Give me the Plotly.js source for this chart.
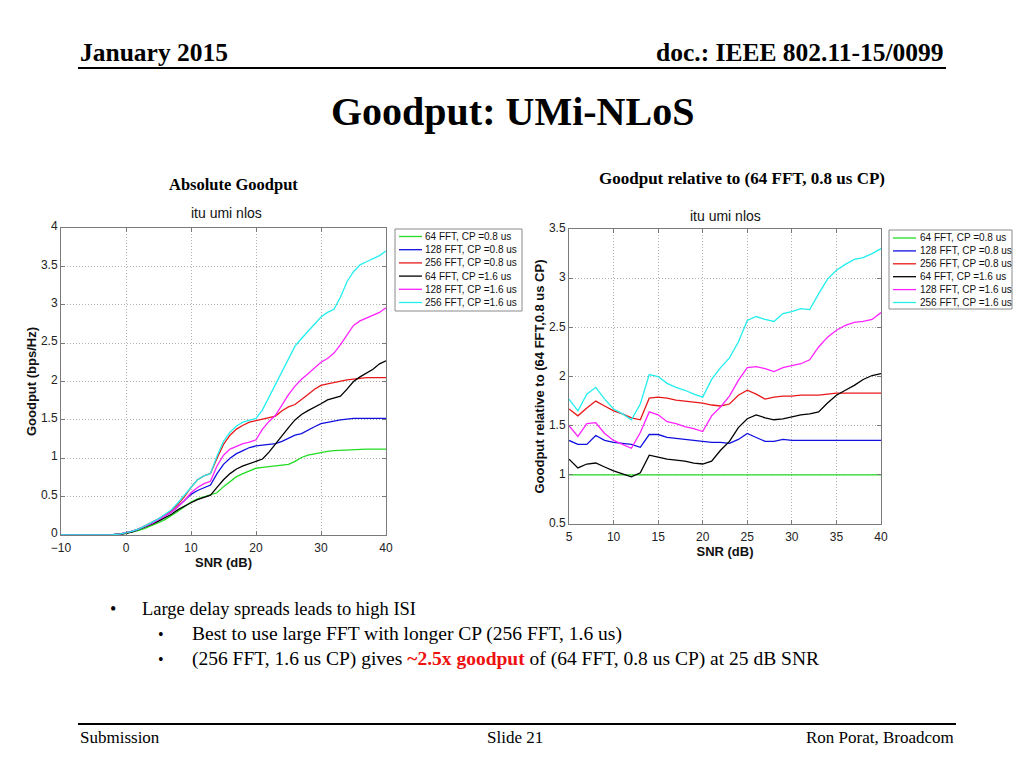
<!DOCTYPE html>
<html>
<head>
<meta charset="utf-8">
<script src="https://cdn.plot.ly/plotly-3.0.1.min.js"></script>
<style>html,body{margin:0;padding:0;background:#fff;}#chart{width:1024px;height:768px;}</style>
</head>
<body>
<div id="chart"></div>
<script>
// ---- Data ----
const seriesNames = ["64 FFT, CP =0.8 us", "128 FFT, CP =0.8 us", "256 FFT, CP =0.8 us",
                     "64 FFT, CP =1.6 us", "128 FFT, CP =1.6 us", "256 FFT, CP =1.6 us"];
const seriesColors = ["#22dd22", "#1010e0", "#e81818", "#000000", "#ff22ff", "#22eeee"];

const snrAbs = [-10,-9,-8,-7,-6,-5,-4,-3,-2,-1,0,1,2,3,4,5,6,7,8,9,10,11,12,13,14,15,16,17,18,19,20,
                21,22,23,24,25,26,27,28,29,30,31,32,33,34,35,36,37,38,39,40];
const abs64_08  = [0,0,0,0,0,0,0,0.002,0.005,0.01,0.02,0.04,0.06,0.09,0.12,0.16,0.2,0.25,0.31,0.37,0.43,0.47,0.5,0.52,0.55,0.63,0.7,0.76,0.8,0.84,0.87,
                   0.88,0.89,0.9,0.91,0.92,0.96,1.01,1.04,1.06,1.08,1.09,1.1,1.105,1.11,1.115,1.12,1.12,1.12,1.12,1.12];
const abs128_08 = [0,0,0,0,0,0,0,0.002,0.006,0.012,0.03,0.05,0.08,0.11,0.15,0.2,0.25,0.3,0.37,0.45,0.53,0.58,0.62,0.65,0.8,0.92,1.0,1.06,1.1,1.14,1.16,
                   1.17,1.18,1.19,1.22,1.26,1.3,1.32,1.37,1.41,1.45,1.47,1.49,1.5,1.51,1.52,1.52,1.52,1.52,1.52,1.52];
const abs256_08 = [0,0,0,0,0,0,0,0.002,0.006,0.012,0.03,0.05,0.08,0.12,0.16,0.21,0.26,0.32,0.4,0.5,0.62,0.72,0.77,0.8,1.0,1.18,1.3,1.38,1.43,1.47,1.49,
                   1.51,1.52,1.55,1.62,1.67,1.7,1.76,1.83,1.9,1.95,1.97,1.99,2.0,2.02,2.03,2.04,2.05,2.05,2.05,2.05];
const abs64_16  = [0,0,0,0,0,0,0,0.002,0.005,0.01,0.02,0.04,0.07,0.1,0.14,0.18,0.22,0.27,0.33,0.38,0.42,0.46,0.49,0.52,0.62,0.72,0.8,0.86,0.9,0.93,0.95,
                   0.99,1.08,1.19,1.3,1.4,1.5,1.57,1.62,1.66,1.71,1.76,1.79,1.81,1.9,2.0,2.06,2.11,2.16,2.23,2.27];
const abs128_16 = [0,0,0,0,0,0,0,0.002,0.006,0.012,0.03,0.05,0.08,0.11,0.15,0.2,0.25,0.3,0.37,0.45,0.55,0.62,0.67,0.7,0.9,1.04,1.12,1.16,1.19,1.21,1.24,
                   1.38,1.48,1.56,1.7,1.83,1.94,2.03,2.1,2.17,2.25,2.3,2.37,2.48,2.6,2.73,2.79,2.83,2.87,2.9,2.96];
const abs256_16 = [0,0,0,0,0,0,0,0.002,0.006,0.012,0.03,0.05,0.08,0.12,0.16,0.21,0.27,0.33,0.42,0.52,0.63,0.72,0.77,0.8,1.03,1.22,1.34,1.42,1.47,1.5,1.52,
                   1.63,1.8,1.95,2.12,2.3,2.46,2.56,2.65,2.74,2.84,2.9,2.94,3.1,3.3,3.43,3.52,3.56,3.6,3.64,3.7];

const snrRel = [5,6,7,8,9,10,11,12,13,14,15,16,17,18,19,20,21,22,23,24,25,26,27,28,29,30,31,32,33,34,35,36,37,38,39,40];
const rel64_08  = [1,1,1,1,1,1,1,1,1,1,1,1,1,1,1,1,1,1,1,1,1,1,1,1,1,1,1,1,1,1,1,1,1,1,1,1];
const rel128_08 = [1.35,1.31,1.31,1.4,1.35,1.33,1.32,1.31,1.28,1.41,1.41,1.38,1.37,1.36,1.35,1.34,1.33,1.33,1.32,1.36,1.42,1.38,1.34,1.34,1.36,1.35,1.35,1.35,1.35,1.35,1.35,1.35,1.35,1.35,1.35,1.35];
const rel256_08 = [1.67,1.6,1.68,1.75,1.7,1.65,1.62,1.58,1.56,1.78,1.79,1.78,1.76,1.75,1.74,1.73,1.71,1.7,1.72,1.81,1.86,1.82,1.77,1.79,1.8,1.8,1.81,1.81,1.81,1.82,1.83,1.83,1.83,1.83,1.83,1.83];
const rel64_16  = [1.16,1.07,1.11,1.12,1.08,1.04,1.01,0.98,1.02,1.2,1.18,1.16,1.15,1.14,1.12,1.11,1.14,1.25,1.34,1.48,1.57,1.61,1.58,1.56,1.57,1.59,1.61,1.62,1.64,1.73,1.81,1.86,1.91,1.97,2.01,2.03];
const rel128_16 = [1.5,1.39,1.52,1.53,1.42,1.35,1.31,1.27,1.43,1.64,1.61,1.54,1.52,1.49,1.47,1.44,1.6,1.69,1.8,1.96,2.09,2.1,2.08,2.05,2.09,2.11,2.13,2.17,2.3,2.4,2.47,2.52,2.55,2.56,2.58,2.65];
const rel256_16 = [1.77,1.65,1.82,1.89,1.77,1.67,1.62,1.56,1.72,2.02,2.0,1.93,1.89,1.86,1.82,1.79,1.97,2.09,2.19,2.35,2.57,2.61,2.58,2.56,2.64,2.66,2.69,2.68,2.84,2.99,3.08,3.14,3.19,3.21,3.25,3.3];

const absSeries = [abs64_08, abs128_08, abs256_08, abs64_16, abs128_16, abs256_16];
const relSeries = [rel64_08, rel128_08, rel256_08, rel64_16, rel128_16, rel256_16];

// ---- Helpers (page pixels -> paper coords) ----
const W = 1024, H = 768;
const P = x => x / W;
const Q = y => 1 - y / H;

const traces = [];
absSeries.forEach((ys, i) => traces.push({
  x: snrAbs, y: ys, type: "scatter", mode: "lines", name: seriesNames[i],
  xaxis: "x", yaxis: "y", line: {color: seriesColors[i], width: 1.3}, hoverinfo: "skip"
}));
relSeries.forEach((ys, i) => traces.push({
  x: snrRel, y: ys, type: "scatter", mode: "lines", name: seriesNames[i],
  xaxis: "x2", yaxis: "y2", line: {color: seriesColors[i], width: 1.3}, hoverinfo: "skip"
}));

const sans = "Liberation Sans, Arial, sans-serif";
const serif = "Liberation Serif, Times New Roman, serif";
const tickFont = {family: sans, size: 12, color: "#222"};
const axTitleFont = {family: sans, size: 13, color: "#111", weight: "bold"};
const axisCommon = {
  showline: true, mirror: "ticks", linecolor: "#7a7a7a", linewidth: 1,
  ticks: "inside", ticklen: 4, tickcolor: "#7a7a7a",
  showgrid: true, gridcolor: "#b0b0b0", griddash: "1px,2px", gridwidth: 1,
  zeroline: false, tickfont: tickFont, automargin: false, fixedrange: true
};

const annotations = [];
const shapes = [];
function txt(text, x, y, size, opts) {
  opts = opts || {};
  annotations.push(Object.assign({
    text: text, x: P(x), y: Q(y), xref: "paper", yref: "paper",
    xanchor: "center", yanchor: "middle", showarrow: false,
    font: {family: serif, size: size, color: "#000"}
  }, opts));
}
// Header
txt("<b>January 2015</b>", 78, 52, 25.5, {xanchor: "left"});
txt("<b>doc.: IEEE 802.11-15/0099</b>", 946, 52, 25.5, {xanchor: "right"});
shapes.push({type: "line", xref: "paper", yref: "paper", x0: P(78), x1: P(946), y0: Q(68), y1: Q(68), line: {color: "#000", width: 2}});
txt("<b>Goodput: UMi-NLoS</b>", 512, 111, 40);
txt("<b>Absolute Goodput</b>", 233, 185, 16.5);
txt("<b>Goodput relative to (64 FFT, 0.8 us CP)</b>", 742, 178, 17);
txt("itu umi nlos", 226, 213, 14, {font: {family: sans, size: 14, color: "#111"}});
txt("itu umi nlos", 725, 216, 14, {font: {family: sans, size: 14, color: "#111"}});

// Manual legends (box, sample lines, labels) laid out from the series arrays
function legendBox(x0, y0, x1, y1, lineX0, lineX1, textX, rowY0, rowStep) {
  shapes.push({type: "rect", xref: "paper", yref: "paper", x0: P(x0), x1: P(x1), y0: Q(y1), y1: Q(y0),
               line: {color: "#8a8a8a", width: 1}, fillcolor: "#fff"});
  seriesNames.forEach((nm, i) => {
    const yy = rowY0 + i * rowStep;
    shapes.push({type: "line", xref: "paper", yref: "paper", x0: P(lineX0), x1: P(lineX1), y0: Q(yy), y1: Q(yy),
                 line: {color: seriesColors[i], width: 1.3}});
    txt(nm, textX, yy, 10, {xanchor: "left", font: {family: sans, size: 10, color: "#111"}});
  });
}
legendBox(395, 229, 522, 311, 399, 422, 423, 236.5, 13.2);
legendBox(889, 230, 1012, 309, 893, 916, 918, 238, 12.9);

// Bullets
txt("•", 113, 609, 18, {xanchor: "center"});
txt("Large delay spreads leads to high ISI", 140, 609, 18.5, {xanchor: "left"});
txt("•", 161, 634, 16, {xanchor: "center"});
txt("Best to use large FFT with longer CP (256 FFT, 1.6 us)", 190, 634, 19.5, {xanchor: "left"});
txt("•", 161, 659, 16, {xanchor: "center"});
txt('(256 FFT, 1.6 us CP) gives <span style="color:#ee1111"><b>~2.5x goodput</b></span> of (64 FFT, 0.8 us CP) at 25 dB SNR', 190, 659, 19.5, {xanchor: "left"});

// Footer
shapes.push({type: "line", xref: "paper", yref: "paper", x0: P(78), x1: P(956), y0: Q(724), y1: Q(724), line: {color: "#000", width: 2}});
txt("Submission", 78, 737, 17, {xanchor: "left"});
txt("Slide 21", 515, 737, 17);
txt("Ron Porat, Broadcom", 956, 737, 17, {xanchor: "right"});

const layout = {
  width: W, height: H, margin: {l: 0, r: 0, t: 0, b: 0, pad: 0},
  paper_bgcolor: "#fff", plot_bgcolor: "#fff", showlegend: false,
  xaxis: Object.assign({}, axisCommon, {domain: [P(61), P(386)], range: [-10, 40], tickvals: [-10, 0, 10, 20, 30, 40],
    anchor: "y", ticklabelstandoff: 2, title: {text: "SNR (dB)", font: axTitleFont, standoff: 0}}),
  yaxis: Object.assign({}, axisCommon, {domain: [Q(535), Q(228)], range: [0, 4], dtick: 0.5, tick0: 0,
    anchor: "x", ticklabelshift: -2, title: {text: "Goodput (bps/Hz)", font: axTitleFont, standoff: 1}}),
  xaxis2: Object.assign({}, axisCommon, {domain: [P(569), P(881)], range: [5, 40], dtick: 5, tick0: 5,
    anchor: "y2", ticklabelstandoff: 2, title: {text: "SNR (dB)", font: axTitleFont, standoff: 0}}),
  yaxis2: Object.assign({}, axisCommon, {domain: [Q(524), Q(229)], range: [0.5, 3.5], dtick: 0.5, tick0: 0.5,
    anchor: "x2", ticklabelshift: -1, title: {text: "Goodput relative to (64 FFT,0.8 us CP)", font: axTitleFont, standoff: 1}}),
  annotations: annotations, shapes: shapes
};

Plotly.newPlot("chart", traces, layout, {staticPlot: true, displayModeBar: false});
</script>
</body>
</html>
